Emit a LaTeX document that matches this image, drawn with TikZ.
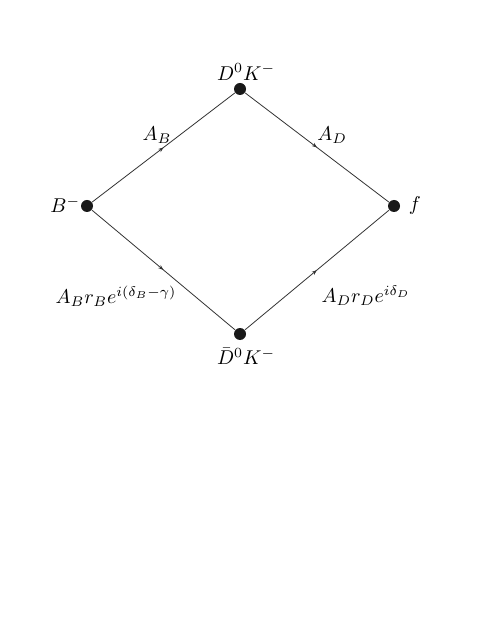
\documentclass[tikz,border=0pt]{standalone}
\usetikzlibrary{decorations.markings,arrows.meta}

\tikzset{every picture/.style={line width=0.4pt}}
\tikzset{
  dot/.style={circle,fill=black!90,inner sep=0pt,minimum size=6pt},
  midarrow/.style={postaction={decorate},decoration={markings,
    mark=at position 0.5 with {\arrow{Stealth[length=2.6pt,width=2pt]}}}}
}

\begin{document}
\begin{tikzpicture}[x=0.5pt,y=0.5pt,yscale=-1,xscale=1]
\useasboundingbox (0,0) rectangle (491,635);

% Vertices
\node [dot] (bminus) at (87,206) {};
\node [dot] (dk) at (240,89) {};
\node [dot] (dbark) at (240,334) {};
\node [dot] (fstate) at (394,206) {};

% Edges
\draw [midarrow, black!80] (bminus) -- (dk);
\draw [midarrow, black!80] (dk) -- (fstate);
\draw [midarrow, black!80] (bminus) -- (dbark);
\draw [midarrow, black!80] (dbark) -- (fstate);

% Text Node
\node [anchor=south, inner sep=0.75pt] (dklabel) at (246,82) {$D^0K^-$};
\node [anchor=north, inner sep=0.75pt] (dbarklabel) at (246,346) {$\bar{D}^0K^-$};
\node [anchor=east, inner sep=0.75pt] (blabel) at (82,205) {$B^-$};
\node [anchor=west, inner sep=0.75pt] (flabel) at (407,206) {$f$};
\node (ablabel) at (157,135) {$A_B$};
\node (adlabel) at (332,135) {$A_D$};
\node (abrlabel) at (116,296) {$A_Br_Be^{i(\delta_B-\gamma)}$};
\node (adrlabel) at (366,296) {$A_Dr_De^{i\delta_D}$};

\end{tikzpicture}
\end{document}
